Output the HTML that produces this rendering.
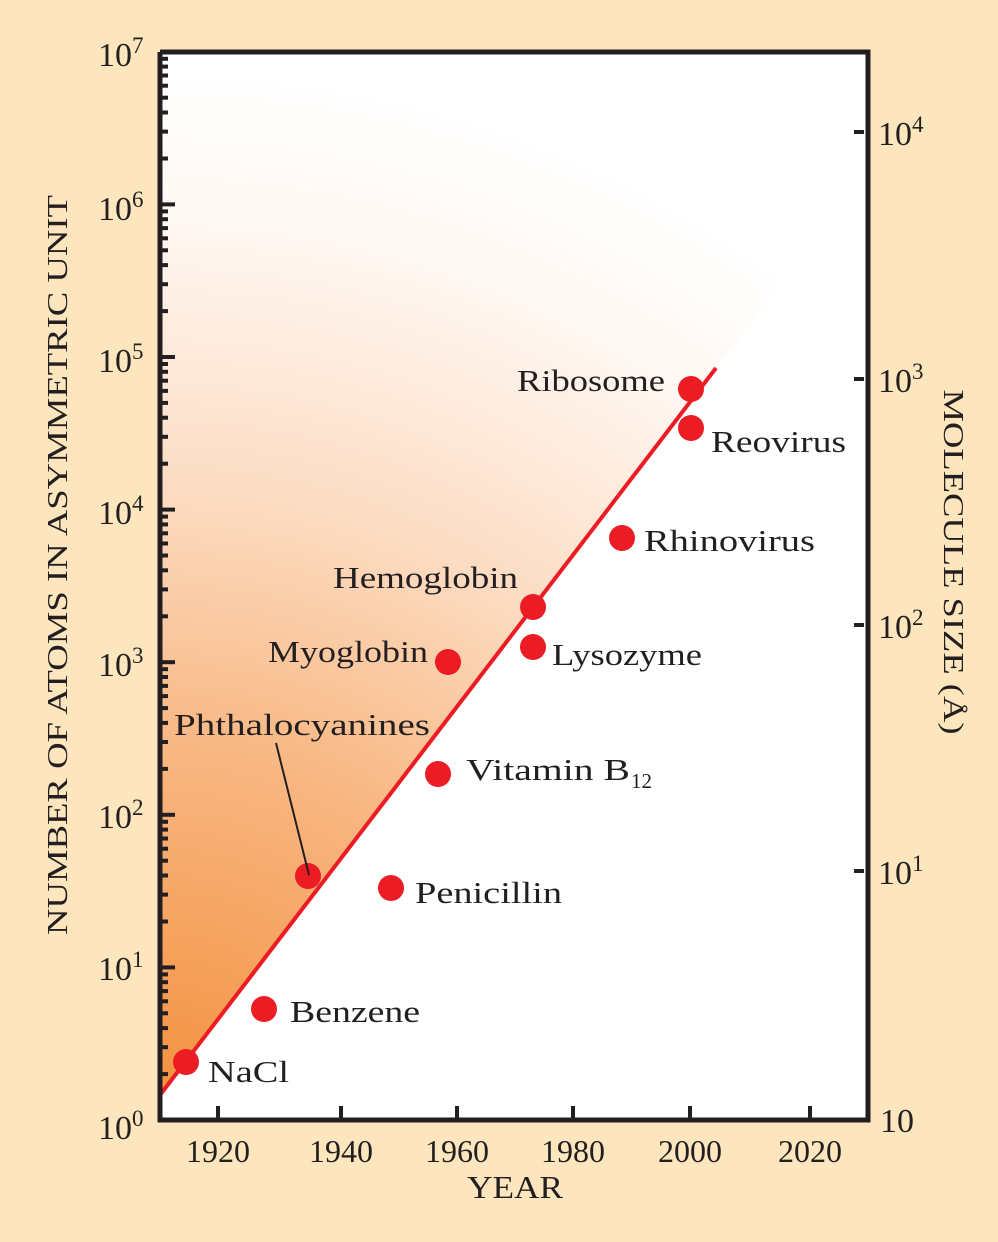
<!DOCTYPE html>
<html><head><style>body{margin:0;background:#fde6bd}svg{display:block}text{font-family:"Liberation Serif",serif;fill:#231f20}</style></head>
<body>
<svg width="998" height="1242" viewBox="0 0 998 1242">
<defs>
<radialGradient id="g" cx="160" cy="1120" r="1050" gradientUnits="userSpaceOnUse">
<stop offset="0" stop-color="#f38f3c"/>
<stop offset="0.35" stop-color="#f8b681"/>
<stop offset="0.6" stop-color="#fcdcc2"/>
<stop offset="0.85" stop-color="#fff7f2"/>
<stop offset="1" stop-color="#ffffff"/>
</radialGradient>
<g id="dec" stroke="#231f20" stroke-width="4">
<line x1="160" y1="-45.9" x2="168" y2="-45.9"/><line x1="160" y1="-72.8" x2="168" y2="-72.8"/><line x1="160" y1="-91.9" x2="168" y2="-91.9"/><line x1="160" y1="-106.7" x2="168" y2="-106.7"/><line x1="160" y1="-118.7" x2="168" y2="-118.7"/><line x1="160" y1="-128.9" x2="168" y2="-128.9"/><line x1="160" y1="-137.8" x2="168" y2="-137.8"/><line x1="160" y1="-145.6" x2="168" y2="-145.6"/><line x1="160" y1="-152.6" x2="175" y2="-152.6"/>
</g>
</defs>
<rect x="0" y="0" width="998" height="1242" fill="#fde6bd"/>
<rect x="160" y="52" width="708" height="1068" fill="#fff"/>
<polygon points="160,1095 808,248 808,52 160,52" fill="url(#g)"/>
<line x1="160" y1="1095" x2="716" y2="368" stroke="#ec1c24" stroke-width="4"/>
<use href="#dec" transform="translate(0,1120)"/>
<use href="#dec" transform="translate(0,967.4)"/>
<use href="#dec" transform="translate(0,814.8)"/>
<use href="#dec" transform="translate(0,662.2)"/>
<use href="#dec" transform="translate(0,509.6)"/>
<use href="#dec" transform="translate(0,357)"/>
<use href="#dec" transform="translate(0,204.4)"/>
<path d="M160,52 V1120 H868 V52 H160" fill="none" stroke="#231f20" stroke-width="5"/>
<g stroke="#231f20" stroke-width="4">
<line x1="218" y1="1120" x2="218" y2="1106"/><line x1="341" y1="1120" x2="341" y2="1106"/><line x1="457" y1="1120" x2="457" y2="1106"/><line x1="573" y1="1120" x2="573" y2="1106"/><line x1="690" y1="1120" x2="690" y2="1106"/><line x1="810" y1="1120" x2="810" y2="1106"/>
<line x1="854" y1="132" x2="864" y2="132"/><line x1="854" y1="379" x2="864" y2="379"/><line x1="854" y1="625" x2="864" y2="625"/><line x1="854" y1="871" x2="864" y2="871"/>
</g>
<g fill="#ec1c24">
<circle cx="186" cy="1062" r="13"/><circle cx="264" cy="1009" r="13"/><circle cx="308" cy="876" r="13"/><circle cx="391" cy="888" r="13"/><circle cx="438" cy="774" r="13"/><circle cx="448" cy="662" r="13"/><circle cx="533" cy="607" r="13"/><circle cx="533" cy="647" r="13"/><circle cx="622" cy="538" r="13"/><circle cx="691" cy="428" r="13"/><circle cx="691" cy="389" r="13"/>
</g>
<line x1="276" y1="743" x2="309" y2="875" stroke="#231f20" stroke-width="2"/>
<g font-size="31">
<text x="208" y="1082" textLength="81" lengthAdjust="spacingAndGlyphs">NaCl</text>
<text x="290" y="1022" textLength="130" lengthAdjust="spacingAndGlyphs">Benzene</text>
<text x="174" y="735" textLength="256" lengthAdjust="spacingAndGlyphs">Phthalocyanines</text>
<text x="415" y="903" textLength="147" lengthAdjust="spacingAndGlyphs">Penicillin</text>
<text x="466" y="780" textLength="164" lengthAdjust="spacingAndGlyphs">Vitamin B</text><text x="631" y="788" font-size="21">12</text>
<text x="268" y="662" textLength="160" lengthAdjust="spacingAndGlyphs">Myoglobin</text>
<text x="333" y="588" textLength="185" lengthAdjust="spacingAndGlyphs">Hemoglobin</text>
<text x="552" y="665" textLength="150" lengthAdjust="spacingAndGlyphs">Lysozyme</text>
<text x="644" y="551" textLength="171" lengthAdjust="spacingAndGlyphs">Rhinovirus</text>
<text x="711" y="452" textLength="135" lengthAdjust="spacingAndGlyphs">Reovirus</text>
<text x="517" y="391" textLength="148" lengthAdjust="spacingAndGlyphs">Ribosome</text>
</g>
<g font-size="32" text-anchor="middle">
<text x="218" y="1162">1920</text><text x="341" y="1162">1940</text><text x="457" y="1162">1960</text><text x="573" y="1162">1980</text><text x="690" y="1162">2000</text><text x="810" y="1162">2020</text>
<text x="515" y="1198" textLength="96" lengthAdjust="spacingAndGlyphs">YEAR</text>
</g>
<g font-size="34">
<text x="98" y="66">10<tspan font-size="23" dy="-13">7</tspan></text>
<text x="98" y="220">10<tspan font-size="23" dy="-13">6</tspan></text>
<text x="98" y="372">10<tspan font-size="23" dy="-13">5</tspan></text>
<text x="98" y="524">10<tspan font-size="23" dy="-13">4</tspan></text>
<text x="98" y="676">10<tspan font-size="23" dy="-13">3</tspan></text>
<text x="98" y="828">10<tspan font-size="23" dy="-13">2</tspan></text>
<text x="98" y="980">10<tspan font-size="23" dy="-13">1</tspan></text>
<text x="98" y="1139">10<tspan font-size="23" dy="-13">0</tspan></text>
<text x="878" y="145">10<tspan font-size="23" dy="-13">4</tspan></text>
<text x="878" y="392">10<tspan font-size="23" dy="-13">3</tspan></text>
<text x="878" y="638">10<tspan font-size="23" dy="-13">2</tspan></text>
<text x="878" y="884">10<tspan font-size="23" dy="-13">1</tspan></text>
<text x="880" y="1132">10</text>
</g>
<text font-size="29" x="0" y="0" text-anchor="middle" textLength="740" lengthAdjust="spacingAndGlyphs" transform="translate(67,565) rotate(-90)">NUMBER OF ATOMS IN ASYMMETRIC UNIT</text>
<text font-size="29" x="0" y="0" text-anchor="middle" textLength="345" lengthAdjust="spacingAndGlyphs" transform="translate(944,562) rotate(90)">MOLECULE SIZE (Å)</text>
</svg>
</body></html>
